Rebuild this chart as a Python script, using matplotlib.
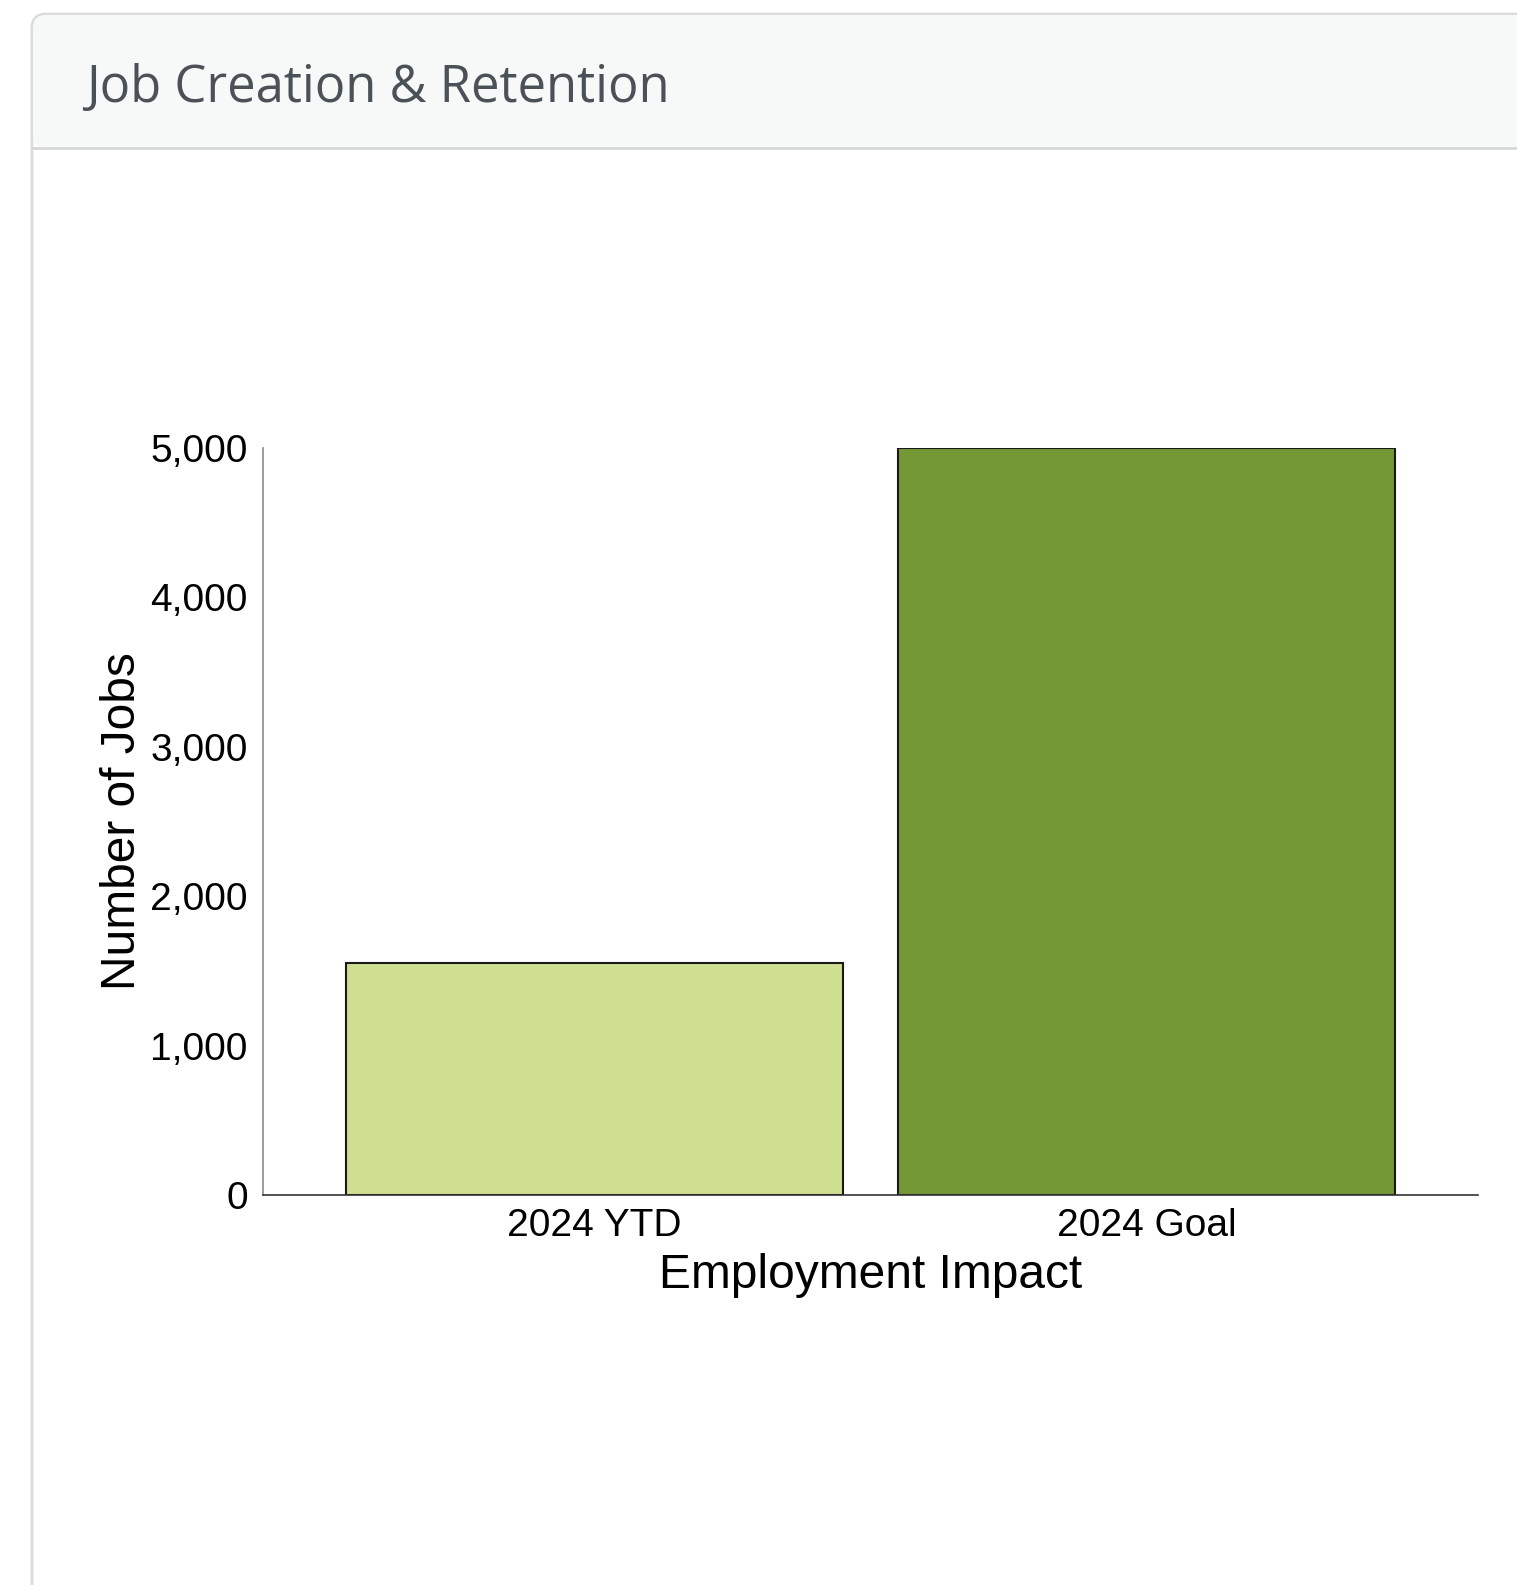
import matplotlib
matplotlib.use("Agg")
import matplotlib.pyplot as plt
from matplotlib.patches import FancyBboxPatch
from matplotlib.ticker import FuncFormatter

categories = ["2024 YTD", "2024 Goal"]
values = [1550, 5000]
bar_colors = ["#cfdf91", "#749836"]
yticks = [0, 1000, 2000, 3000, 4000, 5000]
title = "Job Creation & Retention"
xlabel = "Employment Impact"
ylabel = "Number of Jobs"

W, H = 1517, 1585
fig = plt.figure(figsize=(W / 100, H / 100), dpi=100)
fig.patch.set_facecolor("white")

# background card drawn in pixel coordinates
bg = fig.add_axes([0, 0, 1, 1])
bg.set_xlim(0, W)
bg.set_ylim(H, 0)
bg.axis("off")
card = FancyBboxPatch((32, 14), W + 40, H + 40,
                      boxstyle="round,pad=0,rounding_size=14",
                      facecolor="white", edgecolor="#dadcdc", linewidth=2)
bg.add_patch(card)
header = FancyBboxPatch((33, 15), W + 40, 133,
                        boxstyle="round,pad=0,rounding_size=13",
                        facecolor="#f7f8f8", edgecolor="none")
bg.add_patch(header)
bg.plot([33, W], [148, 148], color="#d6d8d8", linewidth=2)
bg.text(86, 102, title, fontsize=36.5, family="Open Sans", color="#4a5157",
        va="baseline", ha="left")

# chart axes
left, right, top, bottom = 263, 1478, 448, 1195
ax = fig.add_axes([left / W, 1 - bottom / H, (right - left) / W, (bottom - top) / H])
ax.set_facecolor("none")
x = list(range(len(categories)))
ax.bar(x, values, width=0.9, color=bar_colors, edgecolor="#1a1a1a", linewidth=1.5)
ax.set_xlim(-0.6, 1.6)
ax.set_ylim(0, 5000)
ax.set_yticks(yticks)
ax.yaxis.set_major_formatter(FuncFormatter(lambda v, p: f"{int(v):,}"))
ax.set_xticks(x)
ax.set_xticklabels(categories)
for s in ["top", "right"]:
    ax.spines[s].set_visible(False)
ax.spines["left"].set_color("#8c8c8c")
ax.spines["left"].set_linewidth(1.2)
ax.spines["bottom"].set_color("#333333")
ax.spines["bottom"].set_linewidth(1.2)
ax.tick_params(axis="both", length=0, labelsize=28, labelcolor="black")
ax.tick_params(axis="y", pad=11)
ax.tick_params(axis="x", pad=9)
for lab in ax.get_xticklabels() + ax.get_yticklabels():
    lab.set_family("Liberation Sans")
ax.set_xlabel(xlabel, fontsize=34.5, family="Liberation Sans", labelpad=7)
ax.set_ylabel(ylabel, fontsize=34.5, family="Liberation Sans", labelpad=4)

fig.savefig("out.png", dpi=100)
